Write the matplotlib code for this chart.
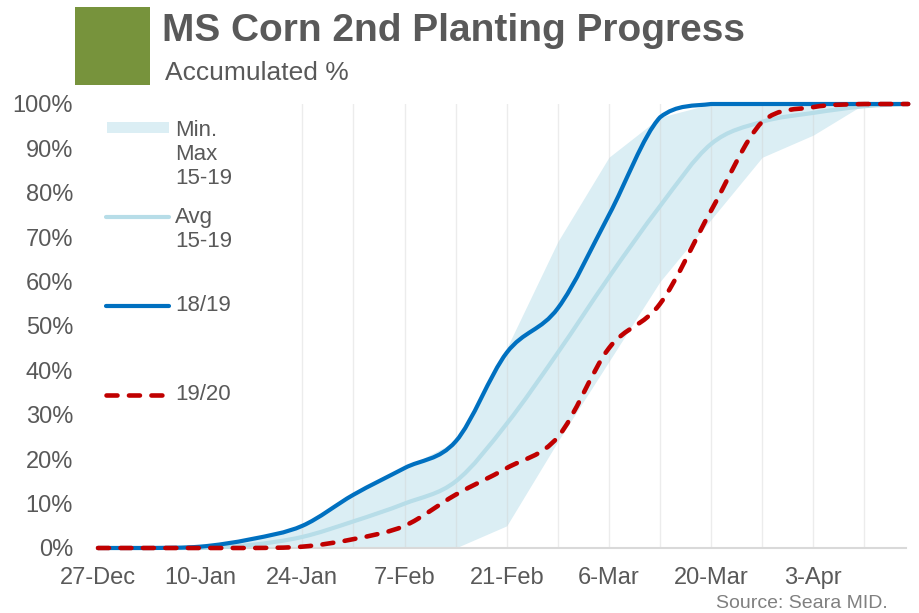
import numpy as np
import matplotlib
matplotlib.use('Agg')
import matplotlib.pyplot as plt
from matplotlib.path import Path
from matplotlib.patches import PathPatch, Rectangle
from matplotlib.lines import Line2D

plt.rcParams['font.family'] = ['Liberation Sans', 'DejaVu Sans']

# days since 27-Dec (weekly points, last one mid April)
days = [0, 7, 14, 21, 28, 35, 42, 49, 56, 63, 70, 77, 84, 91, 98, 105, 111]
tick_days = [0, 14, 28, 42, 56, 70, 84, 98]
tick_labels = ['27-Dec', '10-Jan', '24-Jan', '7-Feb', '21-Feb', '6-Mar', '20-Mar', '3-Apr']

band_min = [0, 0, 0, 0, 0, 0, 0, 0, 5, 24, 42, 60, 74, 88, 93, 100, 100]
band_max = [0, 0, 0.3, 2, 5, 12, 18, 24, 45, 69, 88, 97, 100, 100, 100, 100, 100]
avg_15_19 = [0, 0, 0, 0.7, 2.5, 6, 10, 15, 28, 44, 61, 77, 91, 96, 98, 99.5, 100]
s_18_19 = [0, 0, 0.3, 2, 5, 12, 18, 24, 44, 54, 75, 97, 100, 100, 100, 100, 100]
s_19_20 = [0, 0, 0, 0, 0.3, 2, 5, 12, 18, 25, 45, 55, 76, 96, 99.3, 100, 100]

GREY = '#595959'


def smooth_path(x, y):
    # excel-like smoothed line: catmull-rom segments as cubic bezier,
    # control points kept inside the segment's y range (no overshoot)
    x = np.asarray(x, float)
    y = np.asarray(y, float)
    verts = [(x[0], y[0])]
    codes = [Path.MOVETO]
    n = len(x)
    for i in range(n - 1):
        p0 = (x[max(i - 1, 0)], y[max(i - 1, 0)])
        p1 = (x[i], y[i])
        p2 = (x[i + 1], y[i + 1])
        p3 = (x[min(i + 2, n - 1)], y[min(i + 2, n - 1)])
        lo, hi = min(p1[1], p2[1]), max(p1[1], p2[1])
        c1 = (p1[0] + (p2[0] - p0[0]) / 6, np.clip(p1[1] + (p2[1] - p0[1]) / 6, lo, hi))
        c2 = (p2[0] - (p3[0] - p1[0]) / 6, np.clip(p2[1] - (p3[1] - p1[1]) / 6, lo, hi))
        verts += [c1, c2, p2]
        codes += [Path.CURVE4] * 3
    return Path(verts, codes)


fig = plt.figure(figsize=(9.19, 6.13), dpi=100)
ax = fig.add_axes([98 / 919, 1 - 548 / 613, 808 / 919, 444 / 613])

# min/max band
ax.fill_between(days, band_min, band_max, color='#dbeef4', lw=0, zorder=1)

# vertical grid lines
for d in range(28, 106, 7):
    ax.axvline(d, color='#d0d0d0', lw=1, alpha=0.4, zorder=2)

ax.add_patch(PathPatch(smooth_path(days, avg_15_19), fill=False, ec='#b7dde8',
                       lw=3, capstyle='round', zorder=3, clip_on=False))
ax.add_patch(PathPatch(smooth_path(days, s_18_19), fill=False, ec='#0070c0',
                       lw=3, capstyle='round', zorder=4, clip_on=False))
ax.add_patch(PathPatch(smooth_path(days, s_19_20), fill=False, ec='#c00000',
                       lw=3.3, ls=(0, (2.4, 2.5)), capstyle='round', zorder=5,
                       clip_on=False))

ax.set_xlim(0, 110.7)
ax.set_ylim(0, 100)
ax.set_xticks(tick_days)
ax.set_xticklabels(tick_labels)
ax.set_yticks(range(0, 101, 10))
ax.set_yticklabels([f'{v}%' for v in range(0, 101, 10)])
ax.tick_params(axis='both', length=0, labelsize=17, colors=GREY)
ax.tick_params(axis='y', pad=18)
ax.tick_params(axis='x', pad=14)
for s in ['top', 'right', 'left']:
    ax.spines[s].set_visible(False)
ax.spines['bottom'].set_color('#d9d9d9')
ax.spines['bottom'].set_linewidth(1.5)
ax.spines['bottom'].set_zorder(2.5)

# legend drawn by hand to keep excel layout
W, H = 919, 613


def fx(px):
    return px / W


def fy(py):
    return 1 - py / H


fig.patches.append(Rectangle((fx(107), fy(133)), fx(62), 11 / H, transform=fig.transFigure,
                             color='#dbeef4', lw=0))
fig.lines.append(Line2D([fx(106), fx(169)], [fy(217), fy(217)], transform=fig.transFigure,
                        color='#b7dde8', lw=3, solid_capstyle='round'))
fig.lines.append(Line2D([fx(106), fx(169)], [fy(306), fy(306)], transform=fig.transFigure,
                        color='#0070c0', lw=3, solid_capstyle='round'))
fig.lines.append(Line2D([fx(106), fx(167)], [fy(395), fy(395)], transform=fig.transFigure,
                        color='#c00000', lw=3.3, ls=(0, (2.4, 2.5)), dash_capstyle='round'))
leg_items = [('Min.', 130), ('Max', 154), ('15-19', 178), ('Avg', 217), ('15-19', 242),
             ('18/19', 306), ('19/20', 395)]
for txt, py in leg_items:
    fig.text(fx(175), fy(py), txt, fontsize=16, color=GREY, va='center', ha='left')

# header
fig.patches.append(Rectangle((fx(75), fy(85)), fx(75), 78 / H, transform=fig.transFigure,
                             color='#77933c', lw=0))
fig.text(fx(162), fy(31), 'MS Corn 2nd Planting Progress', fontsize=28, fontweight='bold',
         color=GREY, va='center', ha='left')
fig.text(fx(165), fy(73), 'Accumulated %', fontsize=19, color=GREY, va='center', ha='left')
fig.text(fx(888), fy(603), 'Source: Seara MID.', fontsize=14, color='#808080',
         va='center', ha='right')

fig.savefig('out.png', dpi=100)
